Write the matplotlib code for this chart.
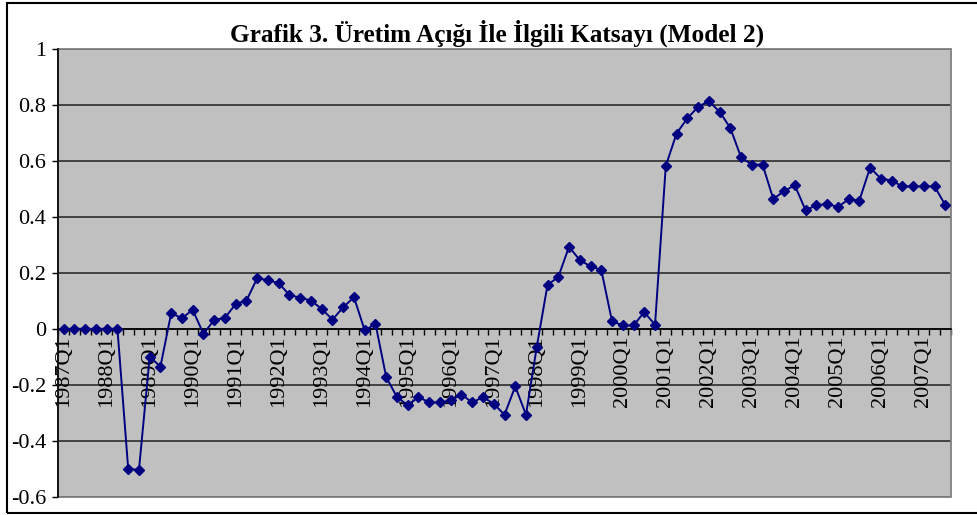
import matplotlib
matplotlib.use("Agg")
import matplotlib.pyplot as plt
from matplotlib.patches import Rectangle
from matplotlib.ticker import FixedLocator, NullFormatter, FixedFormatter

title = "Grafik 3. Üretim Açığı İle İlgili Katsayı (Model 2)"

years = list(range(1987, 2008))
quarters = [f"{y}Q{q}" for y in years for q in range(1, 5)][:83]

values = [
    0.0, 0.0, 0.0, 0.0, 0.0, 0.0, -0.500, -0.505,
    -0.100, -0.135, 0.056, 0.038,
    0.068, -0.018, 0.032, 0.039,
    0.089, 0.101, 0.181, 0.174,
    0.163, 0.121, 0.111, 0.101,
    0.071, 0.033, 0.077, 0.113,
    -0.006, 0.018, -0.173, -0.244,
    -0.273, -0.244, -0.263, -0.263,
    -0.256, -0.235, -0.263, -0.244,
    -0.268, -0.307, -0.206, -0.307,
    -0.065, 0.157, 0.185, 0.293,
    0.246, 0.223, 0.211, 0.027,
    0.012, 0.012, 0.060, 0.014,
    0.582, 0.698, 0.752, 0.793,
    0.814, 0.776, 0.718, 0.613,
    0.587, 0.587, 0.464, 0.492,
    0.513, 0.424, 0.441, 0.447,
    0.435, 0.463, 0.458, 0.576,
    0.537, 0.530, 0.509, 0.509,
    0.509, 0.509, 0.442,
]

y_ticks = [-0.6, -0.4, -0.2, 0, 0.2, 0.4, 0.6, 0.8, 1]
y_labels = ["-0.6", "-0.4", "-0.2", "0", "0.2", "0.4", "0.6", "0.8", "1"]

W, H = 977, 515
fig = plt.figure(figsize=(W / 100, H / 100), dpi=100)
plt.rcParams["font.family"] = ["Liberation Serif", "DejaVu Serif"]

# outer chart border
fig.add_artist(Rectangle((6.7 / W, 1.7 / H), 1.05, (513.3 - 2.7) / H,
                         transform=fig.transFigure, fill=False,
                         edgecolor="black", linewidth=1.5, clip_on=False))

left, right, top, bottom = 58.3, 950.7, 49.0, 496.7
ax = fig.add_axes([left / W, 1 - bottom / H, (right - left) / W, (bottom - top) / H])
ax.set_facecolor("#C0C0C0")

n = len(values)
xs = list(range(n))
ax.set_xlim(-0.5, n - 0.5)
ax.set_ylim(-0.6, 1.0)

# gridlines
for yv in y_ticks:
    ax.axhline(yv, color="#202020", linewidth=1.1, zorder=1)

ax.plot(xs, values, color="#000080", linewidth=1.4, marker="D",
        markersize=5.4, markerfacecolor="#000080", markeredgecolor="#000080",
        zorder=3, clip_on=False)

# spines
for s in ["top", "right"]:
    ax.spines[s].set_visible(False)
ax.spines["left"].set_color("black")
ax.spines["left"].set_linewidth(1.2)
ax.spines["bottom"].set_position(("data", 0))
ax.spines["bottom"].set_color("black")
ax.spines["bottom"].set_linewidth(1.2)
ax.spines["bottom"].set_zorder(2)

# plot area frame
ax.add_patch(Rectangle((0, 0), 1, 1, transform=ax.transAxes, fill=False,
                       edgecolor="#808080", linewidth=1.3, zorder=2, clip_on=False))

# y axis
ax.set_yticks(y_ticks)
ax.set_yticklabels(y_labels)
ax.tick_params(axis="y", direction="out", length=4.6, width=1.0, pad=4,
               labelsize=16, colors="black")

# x axis: ticks between categories, labels every 4 categories
ax.xaxis.set_major_locator(FixedLocator([i - 0.5 for i in range(n + 1)]))
ax.xaxis.set_major_formatter(NullFormatter())
label_pos = list(range(0, n, 4))
ax.xaxis.set_minor_locator(FixedLocator(label_pos))
ax.xaxis.set_minor_formatter(FixedFormatter([quarters[i] for i in label_pos]))
ax.tick_params(axis="x", which="major", direction="out", length=4, width=1.0,
               colors="black")
ax.tick_params(axis="x", which="minor", length=0, pad=4.5, labelsize=16,
               labelrotation=90)

fig.text(497.5 / W, 1 - 33 / H, title, ha="center", va="center",
         fontsize=18.2, fontweight="bold")

fig.savefig("out.png", dpi=100, facecolor="white")
